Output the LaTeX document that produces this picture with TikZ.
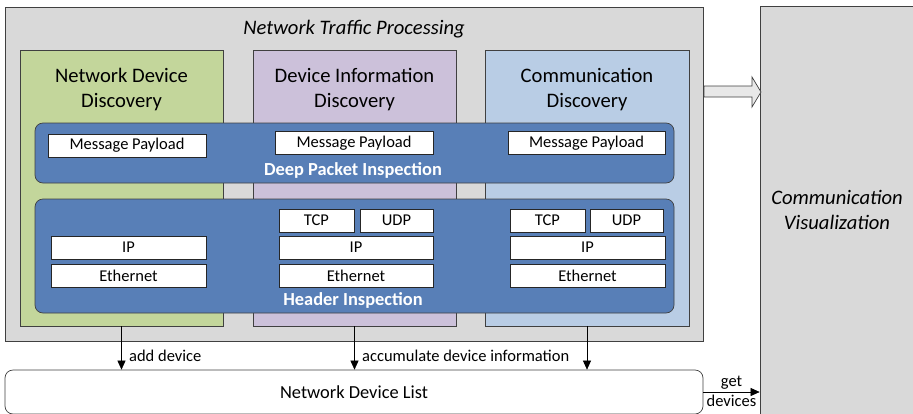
\documentclass[tikz,border=0pt]{standalone}
\usepackage{fontspec}
\setmainfont{Carlito}
\usetikzlibrary{arrows.meta}
\definecolor{procgray}{HTML}{D9D9D9}
\definecolor{netgreen}{HTML}{C3D69B}
\definecolor{infopurple}{HTML}{CCC1DA}
\definecolor{commblue}{HTML}{B9CDE5}
\definecolor{bandblue}{HTML}{587FB7}
\tikzset{
  frame/.style={draw=black!75, line width=0.7pt},
  phase/.style={frame, minimum width=203pt, minimum height=276pt, inner sep=0pt},
  band/.style={frame, fill=bandblue, rounded corners=8pt, minimum width=639pt, inner sep=0pt},
  field/.style={draw=black!85, fill=white, line width=0.7pt, minimum height=23pt, inner sep=0pt, font=\fontsize{16.5}{19}\selectfont},
  title/.style={align=center, font=\fontsize{20.6}{25}\selectfont},
  bandlabel/.style={text=white, font=\fontsize{18.4}{20}\selectfont\bfseries},
  small/.style={font=\fontsize{16.5}{19}\selectfont},
  flow/.style={-{Triangle[length=9pt,width=8pt]}, line width=0.6pt},
}
\begin{document}
\begin{tikzpicture}[x=1pt,y=-1pt]
\clip (0,0) rectangle (913,413);
% containers
\node[frame, fill=procgray, minimum width=698pt, minimum height=334pt] (ntp) at (354,174) {};
\node[frame, fill=procgray, minimum width=154pt, minimum height=408pt, title, font=\fontsize{20.6}{25}\selectfont\itshape] (vis) at (837,210) {Communication\\Visualization};
\node[frame, fill=white, rounded corners=8pt, minimum width=698pt, minimum height=44pt, font=\fontsize{18.4}{21}\selectfont] (list) at (354,392) {Network Device List};
\node[title, font=\fontsize{20.6}{25}\selectfont\itshape] (ntptitle) at (354,29) {Network Traffic Processing};
% discovery phases
\node[phase, fill=netgreen] (netdisc) at (121.5,188) {};
\node[phase, fill=infopurple] (infodisc) at (354.5,188) {};
\node[phase, fill=commblue, minimum width=204pt] (commdisc) at (587,188) {};
\node[title] at (121.5,90) {Network Device\\Discovery};
\node[title] at (354.5,90) {Device Information\\Discovery};
\node[title] at (587,90) {Communication\\Discovery};
% inspection bands
\node[band, minimum height=60pt] (dpi) at (354.5,153) {};
\node[band, minimum height=114pt] (hdr) at (354.5,256) {};
\node[bandlabel] at (353,170) {Deep Packet Inspection};
\node[bandlabel] at (353,300) {Header Inspection};
% fields
\node[field, minimum width=158pt] (mp1) at (127,145.5) {Message Payload};
\node[field, minimum width=158pt] (mp2) at (354,143) {Message Payload};
\node[field, minimum width=157pt] (mp3) at (586.5,143) {Message Payload};
\node[field, minimum width=155pt] (ip1) at (128.5,247.5) {IP};
\node[field, minimum width=155pt] (eth1) at (128.5,275.5) {Ethernet};
\node[field, minimum width=75pt] (tcp2) at (316.5,220.5) {TCP};
\node[field, minimum width=73pt] (udp2) at (396.5,220.5) {UDP};
\node[field, minimum width=154pt] (ip2) at (356,247.5) {IP};
\node[field, minimum width=154pt] (eth2) at (356,275.5) {Ethernet};
\node[field, minimum width=75pt] (tcp3) at (547.5,220.5) {TCP};
\node[field, minimum width=73pt] (udp3) at (626.5,220.5) {UDP};
\node[field, minimum width=155pt] (ip3) at (587.5,247.5) {IP};
\node[field, minimum width=155pt] (eth3) at (587.5,275.5) {Ethernet};
% block arrow to visualization
\draw[frame, fill=procgray!60] (704,86) -- (752,86) -- (752,77) -- (761,92) -- (752,107) -- (752,97) -- (704,97) -- cycle;
% flows
\draw[flow] (netdisc.south) -- (netdisc.south |- list.north) node[pos=0.68, right, small, xshift=4pt] {add device};
\draw[flow] (infodisc.south) -- (infodisc.south |- list.north) node[pos=0.68, right, small, xshift=4pt] {accumulate device information};
\draw[flow] (commdisc.south) -- (commdisc.south |- list.north);
\draw[flow] (list.east) -- (list.east -| vis.west) node[midway, above, small, inner sep=2pt] {get} node[midway, below, small, inner sep=3pt] {devices};
\end{tikzpicture}
\end{document}
